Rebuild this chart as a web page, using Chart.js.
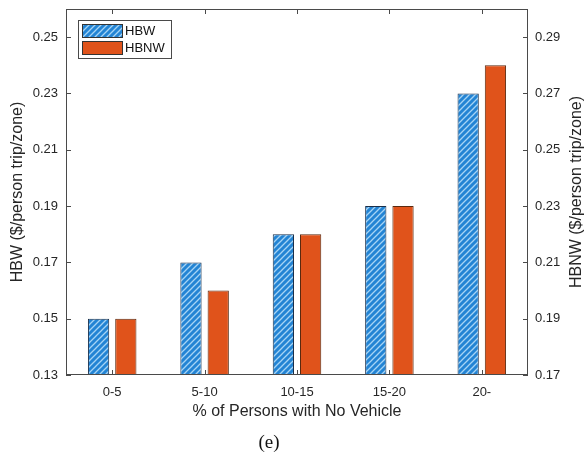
<!DOCTYPE html>
<html>
<head>
<meta charset="utf-8">
<script src="https://cdn.jsdelivr.net/npm/chart.js@4"></script>
<style>
html,body{margin:0;padding:0;background:#fff;}
#wrap{width:586px;height:459px;}
</style>
</head>
<body>
<div id="wrap"><canvas id="c" width="586" height="459"></canvas></div>
<script>
const categories = ['0-5', '5-10', '10-15', '15-20', '20-'];
const hbwValues = [0.15, 0.17, 0.18, 0.19, 0.23];
const hbnwValues = [0.19, 0.20, 0.22, 0.23, 0.28];
const leftTicks = [0.13, 0.15, 0.17, 0.19, 0.21, 0.23, 0.25];
const rightTicks = [0.17, 0.19, 0.21, 0.23, 0.25, 0.27, 0.29];
const leftTitle = 'HBW ($/person trip/zone)';
const rightTitle = 'HBNW ($/person trip/zone)';
const xTitle = '% of Persons with No Vehicle';
const caption = '(e)';

function makeHatch() {
  const s = 6;
  const c = document.createElement('canvas');
  c.width = s; c.height = s;
  const g = c.getContext('2d');
  g.fillStyle = '#2384d4';
  g.fillRect(0, 0, s, s);
  g.strokeStyle = '#a6d4f5';
  g.lineWidth = 1.3;
  g.beginPath();
  g.moveTo(0, s); g.lineTo(s, 0);
  g.moveTo(-s/2, s/2); g.lineTo(s/2, -s/2);
  g.moveTo(s/2, s*1.5); g.lineTo(s*1.5, s/2);
  g.stroke();
  return g.createPattern(c, 'repeat');
}
const ctx0 = document.getElementById('c').getContext('2d');
const hatch = makeHatch();
const orange = '#e0531b';
const font = 'Liberation Sans, Arial, sans-serif';

function noPad(s) { s.paddingTop = 0; s.paddingBottom = 0; }

const framePlugin = {
  id: 'frame',
  afterDraw(chart) {
    const {ctx, chartArea: a, scales} = chart;
    ctx.save();
    ctx.strokeStyle = '#4a4a4a';
    ctx.lineWidth = 1;
    ctx.strokeRect(a.left + 0.5, a.top + 0.5, a.right - a.left - 1, a.bottom - a.top - 1);
    const tl = 5;
    ctx.beginPath();
    leftTicks.forEach(v => {
      const y = Math.round(scales.y.getPixelForValue(v)) + 0.5;
      ctx.moveTo(a.left, y); ctx.lineTo(a.left + tl, y);
    });
    rightTicks.forEach(v => {
      const y = Math.round(scales.y2.getPixelForValue(v)) + 0.5;
      ctx.moveTo(a.right, y); ctx.lineTo(a.right - tl, y);
    });
    categories.forEach((c, i) => {
      const x = Math.round(scales.x.getPixelForValue(i)) + 0.5;
      ctx.moveTo(x, a.bottom); ctx.lineTo(x, a.bottom - tl);
      ctx.moveTo(x, a.top); ctx.lineTo(x, a.top + tl);
    });
    ctx.stroke();

    // axis titles
    ctx.fillStyle = '#262626';
    ctx.font = '16px ' + font;
    ctx.textAlign = 'center';
    ctx.textBaseline = 'middle';
    const cy = (a.top + a.bottom) / 2;
    ctx.save();
    ctx.translate(18, cy); ctx.rotate(-Math.PI / 2);
    ctx.fillText(leftTitle, 0, 0);
    ctx.restore();
    ctx.save();
    ctx.translate(577, cy); ctx.rotate(-Math.PI / 2);
    ctx.fillText(rightTitle, 0, 0);
    ctx.restore();
    ctx.fillText(xTitle, (a.left + a.right) / 2, 412);

    // caption
    ctx.font = '19px Liberation Serif, Times New Roman, serif';
    ctx.fillStyle = '#111';
    ctx.fillText(caption, 269, 443);

    // legend
    const lx = 78, ly = 20, lw = 93, lh = 38;
    ctx.fillStyle = '#fff';
    ctx.fillRect(lx, ly, lw, lh);
    ctx.strokeStyle = '#4a4a4a';
    ctx.strokeRect(lx + 0.5, ly + 0.5, lw, lh);
    const ds = chart.data.datasets;
    ds.forEach((d, i) => {
      const sy = ly + 4 + i * 17;
      ctx.fillStyle = d.backgroundColor;
      ctx.fillRect(lx + 4, sy, 40, 13);
      ctx.strokeStyle = '#333';
      ctx.strokeRect(lx + 4.5, sy + 0.5, 40, 13);
      ctx.fillStyle = '#111';
      ctx.font = '13px ' + font;
      ctx.textAlign = 'left';
      ctx.fillText(d.label, lx + 47, sy + 7);
    });
    ctx.restore();
  }
};

new Chart(ctx0, {
  type: 'bar',
  data: {
    labels: categories,
    datasets: [
      {label: 'HBW', data: hbwValues, yAxisID: 'y', backgroundColor: hatch, borderColor: '#1b2f4a', borderWidth: 1},
      {label: 'HBNW', data: hbnwValues, yAxisID: 'y2', backgroundColor: orange, borderColor: '#5a2a10', borderWidth: 1}
    ]
  },
  plugins: [framePlugin],
  options: {
    responsive: false,
    animation: false,
    devicePixelRatio: 1,
    layout: {padding: {top: 9, left: 0, right: 0, bottom: 0}},
    categoryPercentage: 0.59,
    barPercentage: 0.78,
    plugins: {legend: {display: false}, tooltip: {enabled: false}},
    scales: {
      x: {
        grid: {display: false, drawTicks: false},
        border: {display: false},
        ticks: {color: '#262626', font: {size: 13, family: font}, padding: 10, maxRotation: 0},
        afterFit(s) { s.height = 84; s.paddingLeft = 0; s.paddingRight = 0; }
      },
      y: {
        position: 'left',
        min: 0.13, max: 0.26,
        grid: {display: false, drawTicks: false},
        border: {display: false},
        afterBuildTicks(s) { s.ticks = leftTicks.map(v => ({value: v})); },
        ticks: {color: '#262626', font: {size: 13, family: font}, padding: 8, callback: v => v.toFixed(2)},
        afterFit(s) { s.width = 66; noPad(s); }
      },
      y2: {
        position: 'right',
        min: 0.17, max: 0.30,
        grid: {display: false, drawTicks: false},
        border: {display: false},
        afterBuildTicks(s) { s.ticks = rightTicks.map(v => ({value: v})); },
        ticks: {color: '#262626', font: {size: 13, family: font}, padding: 7, callback: v => v.toFixed(2)},
        afterFit(s) { s.width = 58; noPad(s); }
      }
    }
  }
});
</script>
</body>
</html>
